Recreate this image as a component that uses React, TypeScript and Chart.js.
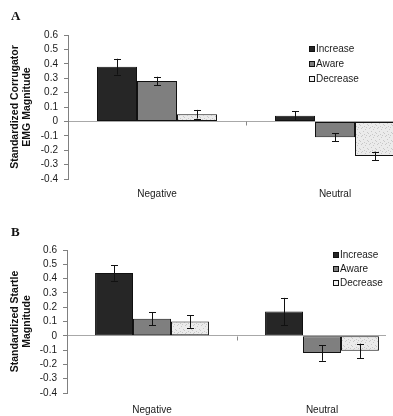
import React, { useEffect, useRef } from 'react';
import { Chart, registerables } from 'chart.js';

Chart.register(...registerables);

// Emotion categories on the x axis
const categories = ['Negative', 'Neutral'];
// Regulation conditions (one bar series each)
const conditions = ['Increase', 'Aware', 'Decrease'];

// Panel A: standardized corrugator EMG magnitude
const corrugatorIncrease = [0.38, 0.04];
const corrugatorAware = [0.28, -0.11];
const corrugatorDecrease = [0.05, -0.24];
const corrugatorIncreaseErr = [0.055, 0.03];
const corrugatorAwareErr = [0.03, 0.027];
const corrugatorDecreaseErr = [0.03, 0.03];

// Panel B: standardized startle magnitude
const startleIncrease = [0.44, 0.17];
const startleAware = [0.12, -0.12];
const startleDecrease = [0.10, -0.105];
const startleIncreaseErr = [0.055, 0.095];
const startleAwareErr = [0.045, 0.055];
const startleDecreaseErr = [0.045, 0.05];

// Y axis range and tick step shared by both panels
const yMin = -0.4;
const yMax = 0.6;
const yStep = 0.1;

const FONT = "'Liberation Sans', Arial, sans-serif";

// Light speckled fill used for the Decrease bars
function speckle(): CanvasPattern | string {
  const c = document.createElement('canvas');
  c.width = 8;
  c.height = 8;
  const g = c.getContext('2d');
  if (!g) return '#e6e6e6';
  g.fillStyle = '#ebebeb';
  g.fillRect(0, 0, 8, 8);
  g.fillStyle = '#c8c8c8';
  const dots = [[1, 0], [5, 1], [3, 3], [7, 4], [0, 5], [4, 6], [6, 7], [2, 7]];
  dots.forEach(([x, y]) => g.fillRect(x, y, 1, 1));
  return g.createPattern(c, 'repeat') || '#e6e6e6';
}

const errorBars = {
  id: 'errorBars',
  afterDatasetsDraw(chart: any) {
    const { ctx } = chart;
    const y = chart.scales.y;
    chart.data.datasets.forEach((ds: any, di: number) => {
      const meta = chart.getDatasetMeta(di);
      meta.data.forEach((bar: any, i: number) => {
        const v = ds.data[i];
        const e = ds.errors[i];
        const top = y.getPixelForValue(v + e);
        const bot = y.getPixelForValue(v - e);
        const x = Math.round(bar.x) + 0.5;
        ctx.save();
        ctx.strokeStyle = '#111';
        ctx.lineWidth = 1;
        ctx.beginPath();
        ctx.moveTo(x, top);
        ctx.lineTo(x, bot);
        ctx.moveTo(x - 3.5, Math.round(top) + 0.5);
        ctx.lineTo(x + 3.5, Math.round(top) + 0.5);
        ctx.moveTo(x - 3.5, Math.round(bot) + 0.5);
        ctx.lineTo(x + 3.5, Math.round(bot) + 0.5);
        ctx.stroke();
        ctx.restore();
      });
    });
  },
};

// Small tick marks on the zero line between categories
const categoryTicks = {
  id: 'categoryTicks',
  afterDraw(chart: any) {
    const { ctx } = chart;
    const x = chart.scales.x;
    const y0 = Math.round(chart.scales.y.getPixelForValue(0)) + 0.5;
    ctx.save();
    ctx.strokeStyle = '#888';
    ctx.lineWidth = 1;
    for (let i = 0; i < x.ticks.length - 1; i++) {
      const px = Math.round((x.getPixelForTick(i) + x.getPixelForTick(i + 1)) / 2) + 0.5;
      ctx.beginPath();
      ctx.moveTo(px, y0);
      ctx.lineTo(px, y0 + 4);
      ctx.stroke();
    }
    ctx.restore();
  },
};

// Legend with small square swatches
const squareKey = {
  id: 'squareKey',
  afterDraw(chart: any, _args: any, opts: any) {
    const { ctx } = chart;
    ctx.save();
    ctx.font = `10px ${FONT}`;
    ctx.textBaseline = 'middle';
    ctx.textAlign = 'left';
    chart.data.datasets.forEach((ds: any, i: number) => {
      const cy = Math.round(opts.y + i * opts.gap);
      ctx.fillStyle = ds.keyColor;
      ctx.fillRect(opts.x, cy - 3, 6, 6);
      ctx.strokeStyle = '#111';
      ctx.lineWidth = 1;
      ctx.strokeRect(opts.x + 0.5, cy - 2.5, 5, 5);
      ctx.fillStyle = '#1a1a1a';
      ctx.fillText(ds.label, opts.x + 7, cy + 0.5);
    });
    ctx.restore();
  },
};

type PanelProps = {
  top: number;
  viewWidth: number;
  width: number;
  height: number;
  axisWidth: number;
  padTop: number;
  padRight: number;
  xAxisHeight: number;
  labelPad: number;
  categoryPercentage: number;
  title: string[];
  series: number[][];
  errors: number[][];
  keyPos: { x: number; y: number; gap: number };
};

function Panel(p: PanelProps) {
  const ref = useRef<HTMLCanvasElement>(null);

  useEffect(() => {
    if (!ref.current) return;
    const fills = ['#262626', '#7f7f7f', speckle()];
    const keyColors = ['#262626', '#7f7f7f', '#f0f0f0'];
    const chart = new Chart(ref.current, {
      type: 'bar',
      data: {
        labels: categories,
        datasets: conditions.map((name, i) => ({
          label: name,
          data: p.series[i],
          errors: p.errors[i],
          keyColor: keyColors[i],
          backgroundColor: fills[i] as any,
          borderColor: '#111',
          borderWidth: 1,
          borderSkipped: false,
          categoryPercentage: p.categoryPercentage,
          barPercentage: 1,
        })) as any,
      },
      options: {
        animation: false,
        responsive: false,
        events: [],
        layout: { padding: { top: p.padTop, right: p.padRight, left: 0, bottom: 0 } },
        plugins: {
          legend: { display: false },
          tooltip: { enabled: false },
          squareKey: p.keyPos,
        } as any,
        scales: {
          x: {
            grid: { display: false, drawTicks: false },
            border: { display: false },
            ticks: { padding: p.labelPad, color: '#1a1a1a', font: { family: FONT, size: 10 } },
            afterFit: (s: any) => {
              s.height = p.xAxisHeight;
            },
          },
          y: {
            min: yMin,
            max: yMax,
            border: { display: true, color: '#808080' },
            grid: {
              color: (c: any) => (c.tick && Math.abs(c.tick.value) < 1e-9 ? '#a8a8a8' : 'transparent'),
              tickColor: '#808080',
              tickLength: 4,
            },
            ticks: {
              stepSize: yStep,
              autoSkip: false,
              padding: 6,
              color: '#1a1a1a',
              font: { family: FONT, size: 10 },
              callback: (v: any) => String(Number(Number(v).toFixed(1))),
            },
            title: {
              display: true,
              text: p.title,
              color: '#111',
              font: { family: FONT, size: 10.5, weight: 'bold', lineHeight: 1.15 },
              padding: { top: 9, bottom: 0 },
            },
            afterFit: (s: any) => {
              s.width = p.axisWidth;
            },
          },
        },
      },
      plugins: [errorBars, categoryTicks, squareKey],
    });
    return () => chart.destroy();
  }, []);

  return (
    <div
      style={{
        position: 'absolute',
        left: 0,
        top: p.top,
        width: p.viewWidth,
        height: p.height,
        overflow: 'hidden',
      }}
    >
      <canvas ref={ref} width={p.width} height={p.height} style={{ display: 'block' }} />
    </div>
  );
}

const letterStyle: React.CSSProperties = {
  position: 'absolute',
  left: 11,
  fontFamily: "'Liberation Serif', 'Times New Roman', serif",
  fontWeight: 'bold',
  fontSize: 13,
  lineHeight: '13px',
  color: '#111',
};

export default function App() {
  return (
    <div
      style={{
        position: 'fixed',
        left: 0,
        top: 0,
        width: 393,
        height: 416,
        overflow: 'hidden',
        background: '#fff',
      }}
    >
      <Panel
        top={0}
        viewWidth={393}
        width={440}
        height={205}
        axisWidth={68}
        padTop={35}
        padRight={16}
        xAxisHeight={26}
        labelPad={9}
        categoryPercentage={0.674}
        title={['Standardized Corrugator', 'EMG Magnitude']}
        series={[corrugatorIncrease, corrugatorAware, corrugatorDecrease]}
        errors={[corrugatorIncreaseErr, corrugatorAwareErr, corrugatorDecreaseErr]}
        keyPos={{ x: 309, y: 49, gap: 15 }}
      />
      <Panel
        top={205}
        viewWidth={386}
        width={420}
        height={211}
        axisWidth={67}
        padTop={45}
        padRight={13}
        xAxisHeight={23}
        labelPad={11}
        categoryPercentage={0.67}
        title={['Standardized Startle', 'Magnitude']}
        series={[startleIncrease, startleAware, startleDecrease]}
        errors={[startleIncreaseErr, startleAwareErr, startleDecreaseErr]}
        keyPos={{ x: 333, y: 50, gap: 14 }}
      />
      <div style={{ ...letterStyle, top: 9 }}>A</div>
      <div style={{ ...letterStyle, top: 225 }}>B</div>
    </div>
  );
}
